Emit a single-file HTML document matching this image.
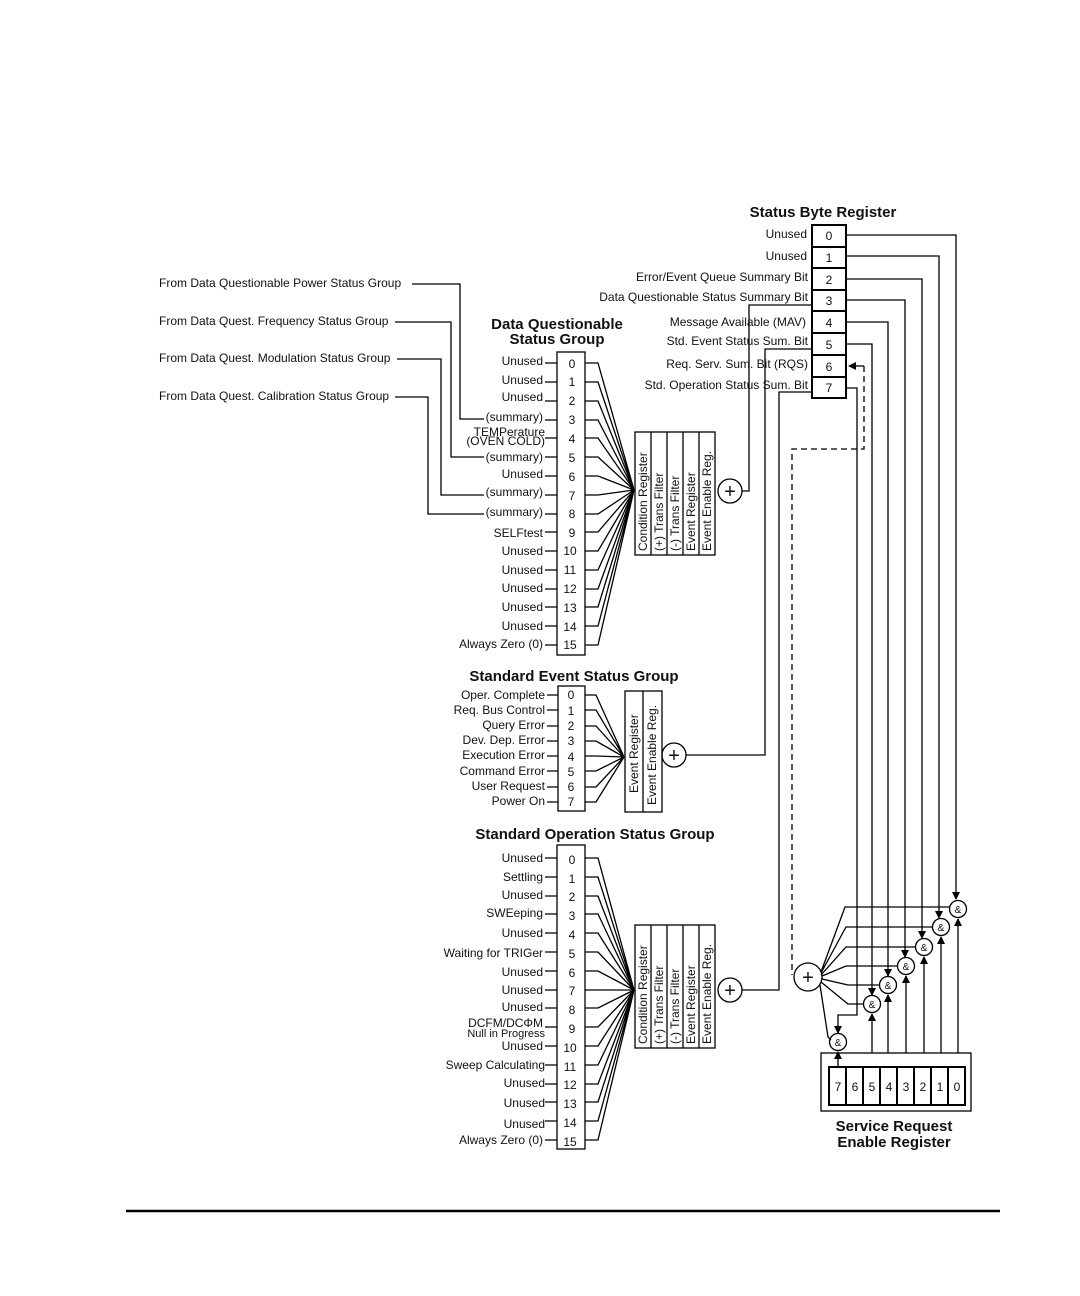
<!DOCTYPE html>
<html><head><meta charset="utf-8"><style>
html,body{margin:0;padding:0;background:#fff;}
svg{display:block;}
text{font-family:"Liberation Sans",sans-serif;fill:#111;}
.l{font-size:12px;text-anchor:end;}
.n{font-size:12px;text-anchor:middle;}
.t{font-size:15px;font-weight:bold;text-anchor:middle;}
.r{font-size:12px;}
</style></head><body>
<svg width="1080" height="1296" viewBox="0 0 1080 1296" xmlns="http://www.w3.org/2000/svg">
<defs>
<marker id="a" markerWidth="8" markerHeight="8" refX="7" refY="4" orient="auto" markerUnits="userSpaceOnUse"><path d="M0,0 L8,4 L0,8 z" fill="#000"/></marker>
</defs>
<g stroke="#000" stroke-width="1.3" fill="none">
<!-- Status byte register -->
<rect x="812" y="225" width="34" height="173" stroke-width="2"/>
<path d="M812 247H846M812 268H846M812 290H846M812 311H846M812 333H846M812 355H846M812 377H846" stroke-width="2"/>
<!-- bit lines to & gates -->
<path d="M846 235H956V899" marker-end="url(#a)"/>
<path d="M846 256H939V918" marker-end="url(#a)"/>
<path d="M846 279H922V938" marker-end="url(#a)"/>
<path d="M846 300H905V957" marker-end="url(#a)"/>
<path d="M846 322H888V976" marker-end="url(#a)"/>
<path d="M846 344H872V995" marker-end="url(#a)"/>
<path d="M846 388H857V1015H838V1033" marker-end="url(#a)"/>
<path d="M864 366V449H792V975" stroke-dasharray="6,4"/>
<path d="M864 366H849" marker-end="url(#a)"/>
<!-- + and fan -->
<circle cx="808" cy="977" r="14"/>
<path d="M821 972L845 907H950M821 973L846 927H933M821 975L846 947H916M822 976L846 966H897M822 979L848 985H880M821 982L848 1004H864M820 985L828 1037L831 1040"/>
<!-- & gates -->
<circle cx="958" cy="909" r="8.5"/><circle cx="941" cy="927" r="8.5"/><circle cx="924" cy="947" r="8.5"/><circle cx="906" cy="966" r="8.5"/><circle cx="888" cy="985" r="8.5"/><circle cx="872" cy="1004" r="8.5"/><circle cx="838" cy="1042" r="8.5"/>
<!-- SRE -->
<rect x="821" y="1053" width="150" height="58"/>
<rect x="829" y="1067" width="136" height="38" stroke-width="2"/>
<path d="M846 1067V1105M863 1067V1105M880 1067V1105M897 1067V1105M914 1067V1105M931 1067V1105M948 1067V1105" stroke-width="2"/>
<path d="M958 1053V919" marker-end="url(#a)"/>
<path d="M941 1053V937" marker-end="url(#a)"/>
<path d="M924 1053V957" marker-end="url(#a)"/>
<path d="M906 1053V976" marker-end="url(#a)"/>
<path d="M888 1053V995" marker-end="url(#a)"/>
<path d="M872 1053V1014" marker-end="url(#a)"/>
<path d="M838 1067V1052" marker-end="url(#a)"/>
<!-- From lines -->
<path d="M412 284H460V419H484M395 322H451V457H484M397 359H441V495H484M395 397H428V514H484"/>
<!-- DQ box -->
<rect x="557" y="352" width="28" height="303"/>
<path d="M545 363H557M545 382H557M545 401H557M545 420H557M545 438H557M545 457H557M545 476H557M545 495H557M545 514H557M545 532H557M545 551H557M545 570H557M545 589H557M545 607H557M545 626H557M545 645H557"/>
<path d="M585 363H598L634 490M585 382H598L634 490M585 401H598L634 490M585 420H598L634 490M585 438H598L634 490M585 457H598L634 490M585 476H598L634 490M585 495H598L634 490M585 514H598L634 490M585 532H598L634 490M585 551H598L634 490M585 570H598L634 490M585 589H598L634 490M585 607H598L634 490M585 626H598L634 490M585 645H598L634 490"/>
<rect x="635" y="432" width="80" height="123"/>
<path d="M651 432V555M667 432V555M683 432V555M699 432V555"/>
<circle cx="730" cy="491" r="12"/>
<path d="M742 491H749V305H812"/>
<!-- SE box -->
<rect x="558" y="686" width="27" height="125"/>
<path d="M547 695H558M547 710H558M547 726H558M547 741H558M547 756H558M547 771H558M547 787H558M547 802H558"/>
<path d="M585 695H596L624 757M585 710H596L624 757M585 726H596L624 757M585 741H596L624 757M585 756H596L624 757M585 771H596L624 757M585 787H596L624 757M585 802H596L624 757"/>
<rect x="625" y="691" width="37" height="121"/>
<path d="M643 691V812"/>
<circle cx="674" cy="755" r="12"/>
<path d="M686 755H765V349H812"/>
<!-- SO box -->
<rect x="557" y="845" width="28" height="304"/>
<path d="M545 858H557M545 877H557M545 896H557M545 914H557M545 933H557M545 952H557M545 971H557M545 990H557M545 1008H557M545 1027H557M545 1046H557M545 1065H557M545 1084H557M545 1102H557M545 1121H557M545 1140H557"/>
<path d="M585 858H598L634 990M585 877H598L634 990M585 896H598L634 990M585 914H598L634 990M585 933H598L634 990M585 952H598L634 990M585 971H598L634 990M585 990H634M585 1008H598L634 990M585 1027H598L634 990M585 1046H598L634 990M585 1065H598L634 990M585 1084H598L634 990M585 1102H598L634 990M585 1121H598L634 990M585 1140H598L634 990"/>
<rect x="635" y="925" width="80" height="123"/>
<path d="M651 925V1048M667 925V1048M683 925V1048M699 925V1048"/>
<circle cx="730" cy="990" r="12"/>
<path d="M742 990H779V392H812"/>
</g>
<path d="M126 1211H1000" stroke="#000" stroke-width="2.5"/>
<!-- + signs -->
<g font-size="20" text-anchor="middle" font-family="Liberation Sans">
<text x="730" y="498">+</text><text x="674" y="762">+</text><text x="730" y="997">+</text><text x="808" y="984">+</text>
</g>
<g font-size="10" text-anchor="middle">
<text x="958" y="913">&amp;</text><text x="941" y="931">&amp;</text><text x="924" y="951">&amp;</text><text x="906" y="970">&amp;</text><text x="888" y="989">&amp;</text><text x="872" y="1008">&amp;</text><text x="838" y="1046">&amp;</text>
</g>
<!-- Titles -->
<text class="t" x="823" y="217">Status Byte Register</text>
<text class="t" x="557" y="329">Data Questionable</text>
<text class="t" x="557" y="344">Status Group</text>
<text class="t" x="574" y="681">Standard Event Status Group</text>
<text class="t" x="595" y="839">Standard Operation Status Group</text>
<text class="t" x="894" y="1131">Service Request</text>
<text class="t" x="894" y="1147">Enable Register</text>
<!-- Status byte labels -->
<g class="n"><text x="829" y="240">0</text><text x="829" y="262">1</text><text x="829" y="284">2</text><text x="829" y="305">3</text><text x="829" y="327">4</text><text x="829" y="349">5</text><text x="829" y="371">6</text><text x="829" y="392">7</text></g>
<g class="l"><text x="807" y="238">Unused</text><text x="807" y="260">Unused</text><text x="808" y="281">Error/Event Queue Summary Bit</text><text x="808" y="301">Data Questionable Status Summary Bit</text><text x="806" y="326">Message Available (MAV)</text><text x="808" y="345">Std. Event Status Sum. Bit</text><text x="808" y="368">Req. Serv. Sum. Bit (RQS)</text><text x="808" y="389">Std. Operation Status Sum. Bit</text></g>
<!-- From labels -->
<g class="r"><text x="159" y="287">From Data Questionable Power Status Group</text><text x="159" y="325">From Data Quest. Frequency Status Group</text><text x="159" y="362">From Data Quest. Modulation Status Group</text><text x="159" y="400">From Data Quest. Calibration Status Group</text></g>
<!-- DQ -->
<g class="n"><text x="572" y="368">0</text><text x="572" y="386">1</text><text x="572" y="405">2</text><text x="572" y="424">3</text><text x="572" y="443">4</text><text x="572" y="462">5</text><text x="572" y="481">6</text><text x="572" y="500">7</text><text x="572" y="518">8</text><text x="572" y="537">9</text><text x="570" y="555">10</text><text x="570" y="574">11</text><text x="570" y="593">12</text><text x="570" y="612">13</text><text x="570" y="631">14</text><text x="570" y="649">15</text></g>
<g class="l"><text x="543" y="365">Unused</text><text x="543" y="384">Unused</text><text x="543" y="401">Unused</text><text x="543" y="421">(summary)</text><text x="545" y="436">TEMPerature</text><text x="545" y="445">(OVEN COLD)</text><text x="543" y="461">(summary)</text><text x="543" y="478">Unused</text><text x="543" y="496">(summary)</text><text x="543" y="516">(summary)</text><text x="543" y="537">SELFtest</text><text x="543" y="555">Unused</text><text x="543" y="574">Unused</text><text x="543" y="592">Unused</text><text x="543" y="611">Unused</text><text x="543" y="630">Unused</text><text x="543" y="648">Always Zero (0)</text></g>
<g class="r"><text transform="translate(647,551) rotate(-90)">Condition Register</text><text transform="translate(663,551) rotate(-90)">(+) Trans Filter</text><text transform="translate(679,551) rotate(-90)">(-) Trans Filter</text><text transform="translate(695,551) rotate(-90)">Event Register</text><text transform="translate(711,551) rotate(-90)">Event Enable Reg.</text></g>
<!-- SE -->
<g class="n"><text x="571" y="699">0</text><text x="571" y="715">1</text><text x="571" y="730">2</text><text x="571" y="745">3</text><text x="571" y="761">4</text><text x="571" y="776">5</text><text x="571" y="791">6</text><text x="571" y="806">7</text></g>
<g class="l"><text x="545" y="699">Oper. Complete</text><text x="545" y="714">Req. Bus Control</text><text x="545" y="729">Query Error</text><text x="545" y="744">Dev. Dep. Error</text><text x="545" y="759">Execution Error</text><text x="545" y="775">Command Error</text><text x="545" y="790">User Request</text><text x="545" y="805">Power On</text></g>
<g class="r"><text transform="translate(638,793) rotate(-90)">Event Register</text><text transform="translate(656,805) rotate(-90)">Event Enable Reg.</text></g>
<!-- SO -->
<g class="n"><text x="572" y="864">0</text><text x="572" y="883">1</text><text x="572" y="901">2</text><text x="572" y="920">3</text><text x="572" y="939">4</text><text x="572" y="958">5</text><text x="572" y="977">6</text><text x="572" y="995">7</text><text x="572" y="1014">8</text><text x="572" y="1033">9</text><text x="570" y="1052">10</text><text x="570" y="1071">11</text><text x="570" y="1089">12</text><text x="570" y="1108">13</text><text x="570" y="1127">14</text><text x="570" y="1146">15</text></g>
<g class="l"><text x="543" y="862">Unused</text><text x="543" y="881">Settling</text><text x="543" y="899">Unused</text><text x="543" y="917">SWEeping</text><text x="543" y="937">Unused</text><text x="543" y="957">Waiting for TRIGer</text><text x="543" y="976">Unused</text><text x="543" y="994">Unused</text><text x="543" y="1011">Unused</text><text x="543" y="1027">DCFM/DCΦM</text><text x="545" y="1037" style="font-size:11px">Null in Progress</text><text x="543" y="1050">Unused</text><text x="545" y="1069">Sweep Calculating</text><text x="545" y="1087">Unused</text><text x="545" y="1107">Unused</text><text x="545" y="1128">Unused</text><text x="543" y="1144">Always Zero (0)</text></g>
<g class="r"><text transform="translate(647,1044) rotate(-90)">Condition Register</text><text transform="translate(663,1044) rotate(-90)">(+) Trans Filter</text><text transform="translate(679,1044) rotate(-90)">(-) Trans Filter</text><text transform="translate(695,1044) rotate(-90)">Event Register</text><text transform="translate(711,1044) rotate(-90)">Event Enable Reg.</text></g>
<!-- SRE digits -->
<g class="n"><text x="838" y="1091">7</text><text x="855" y="1091">6</text><text x="872" y="1091">5</text><text x="889" y="1091">4</text><text x="906" y="1091">3</text><text x="923" y="1091">2</text><text x="940" y="1091">1</text><text x="957" y="1091">0</text></g>
</svg>
</body></html>
